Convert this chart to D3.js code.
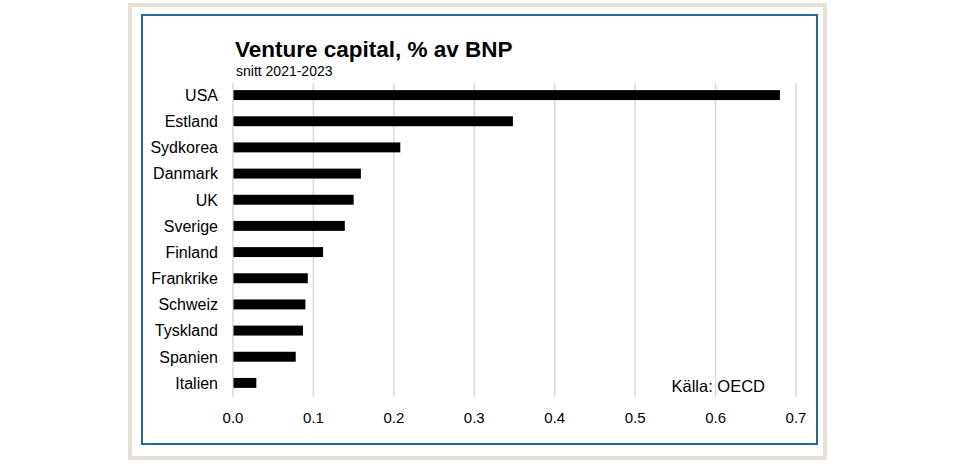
<!DOCTYPE html>
<html>
<head>
<meta charset="utf-8">
<script src="https://cdn.jsdelivr.net/npm/d3@7"></script>
<style>
  body { margin: 0; background: #fff; }
  text { font-family: "Liberation Sans", Arial, sans-serif; fill: #000; }
</style>
</head>
<body>
<svg width="960" height="464"></svg>
<script>
// data (OECD, snitt 2021-2023)
var countries = ["USA", "Estland", "Sydkorea", "Danmark", "UK", "Sverige",
                 "Finland", "Frankrike", "Schweiz", "Tyskland", "Spanien", "Italien"];
var values = [0.680, 0.348, 0.208, 0.159, 0.150, 0.139,
              0.112, 0.093, 0.090, 0.087, 0.078, 0.029];
var ticks = [0, 0.1, 0.2, 0.3, 0.4, 0.5, 0.6, 0.7];

var svg = d3.select('svg');

// frames
svg.append("rect")
    .attr("x", 130).attr("y", 5)
    .attr("width", 695).attr("height", 453)
    .attr("fill", "none")
    .attr("stroke", "#e8e0d5")
    .attr("stroke-width", 4);

svg.append("rect")
    .attr("x", 142).attr("y", 15)
    .attr("width", 675).attr("height", 429)
    .attr("fill", "#fff")
    .attr("stroke", "#1f6b96")
    .attr("stroke-width", 2);

var x = d3.scaleLinear().domain([0, 0.7]).range([233, 796]);
var y = d3.scaleBand().domain(countries).range([82, 396])
    .paddingInner(0.62).paddingOuter(0.31);

// grid
svg.selectAll('line.grid')
    .data(ticks)
    .enter()
    .append('line')
    .attr('class', 'grid')
    .attr('x1', function(d) { return x(d); })
    .attr('x2', function(d) { return x(d); })
    .attr('y1', 83)
    .attr('y2', 397)
    .attr('stroke', '#d9d9d9')
    .attr('stroke-width', 1.5);

// bars
svg.selectAll('rect.bar')
    .data(countries)
    .enter()
    .append('rect')
    .attr('class', 'bar')
    .attr('x', x(0) + 0.5)
    .attr('y', function(d) { return y(d); })
    .attr('width', function(d, i) { return x(values[i]) - x(0) - 0.5; })
    .attr('height', y.bandwidth())
    .attr('fill', '#000');

// category labels
svg.selectAll('text.cat')
    .data(countries)
    .enter()
    .append('text')
    .attr('class', 'cat')
    .attr('x', 218)
    .attr('y', function(d) { return y(d) + y.bandwidth() / 2; })
    .attr('dy', '0.36em')
    .attr('text-anchor', 'end')
    .style('font-size', '16px')
    .text(function(d) { return d; });

// x tick labels
svg.selectAll('text.tick')
    .data(ticks)
    .enter()
    .append('text')
    .attr('class', 'tick')
    .attr('x', function(d) { return x(d); })
    .attr('y', 423)
    .attr('text-anchor', 'middle')
    .style('font-size', '15px')
    .text(function(d) { return d3.format('.1f')(d); });

// titles
svg.append('text')
    .attr('x', 235).attr('y', 57)
    .style('font-size', '22.5px')
    .style('font-weight', 'bold')
    .text('Venture capital, % av BNP');

svg.append('text')
    .attr('x', 236).attr('y', 76)
    .style('font-size', '14px')
    .text('snitt 2021-2023');

svg.append('text')
    .attr('x', 765).attr('y', 392)
    .attr('text-anchor', 'end')
    .style('font-size', '16.5px')
    .text('Källa: OECD');
</script>
</body>
</html>
